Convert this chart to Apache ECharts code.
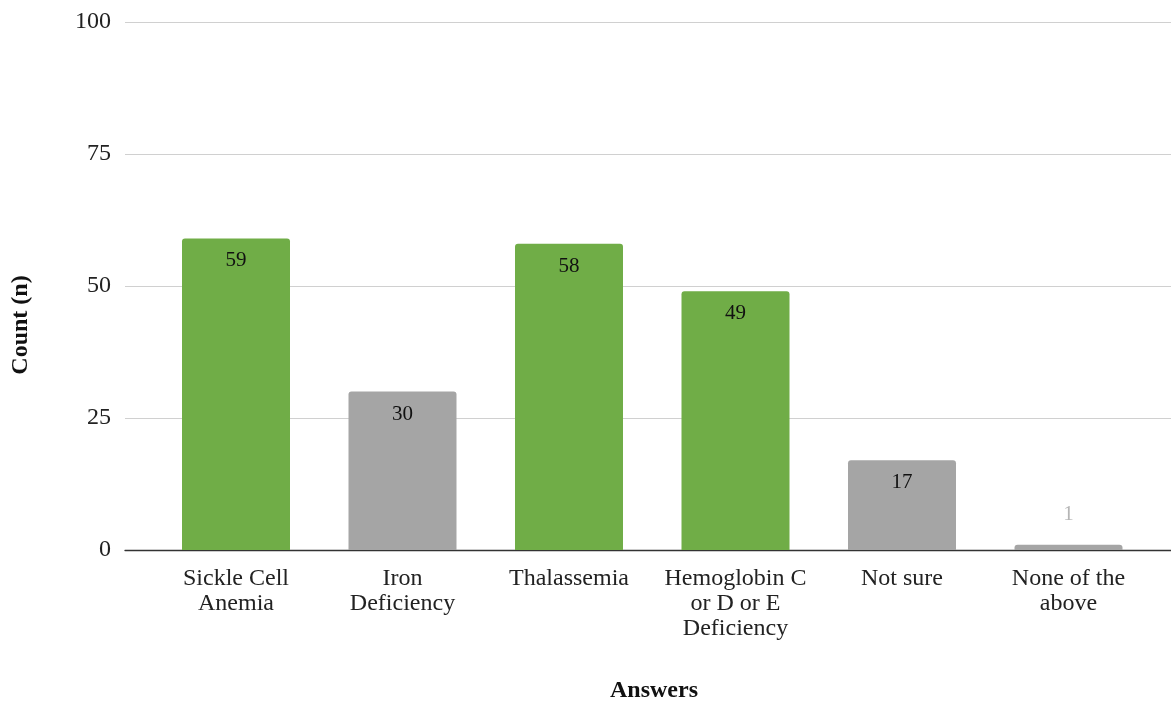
<!DOCTYPE html>
<html>
<head>
<meta charset="utf-8">
<script src="https://cdn.jsdelivr.net/npm/echarts@6/dist/echarts.min.js"></script>
<style>
  html, body { margin: 0; padding: 0; background: #fff; }
  #chart { width: 1171px; height: 702px; }
</style>
</head>
<body>
<div id="chart"></div>
<script>
// Survey answers and their counts
const categories = [
  'Sickle Cell\nAnemia',
  'Iron\nDeficiency',
  'Thalassemia',
  'Hemoglobin C\nor D or E\nDeficiency',
  'Not sure',
  'None of the\nabove'
];
const counts = [59, 30, 58, 49, 17, 1];
const isHemoglobinopathy = [true, false, true, true, false, false];
const yTicks = [0, 25, 50, 75, 100];

const GREEN = '#70ad47';
const GRAY = '#a5a5a5';
const FONT = '"Liberation Serif", "Times New Roman", serif';

const barData = counts.map((v, i) => {
  const item = {
    value: v,
    itemStyle: { color: isHemoglobinopathy[i] ? GREEN : GRAY }
  };
  // too short to hold its label: put it above the bar, muted
  if (v < 5) {
    item.label = { position: 'top', distance: 20, color: '#b5b5b5' };
  }
  return item;
});

const chart = echarts.init(document.getElementById('chart'), null, { renderer: 'canvas' });
chart.setOption({
  animation: false,
  backgroundColor: '#fff',
  grid: [
    { left: 125, right: 0, top: 22, bottom: 152 },
    { left: 152.75, right: 19.25, top: 22, bottom: 152 }
  ],
  xAxis: [
    {
      gridIndex: 0, type: 'value', min: 0, max: 1,
      axisLine: { show: true, lineStyle: { color: '#333', width: 1.3 } },
      axisTick: { show: false }, axisLabel: { show: false }, splitLine: { show: false }
    },
    {
      gridIndex: 1, type: 'category', data: categories,
      axisLine: { show: false }, axisTick: { show: false },
      axisLabel: {
        margin: 16, fontFamily: FONT, fontSize: 24, lineHeight: 25,
        color: '#222', interval: 0
      }
    }
  ],
  yAxis: [
    {
      gridIndex: 0, type: 'value', min: yTicks[0], max: yTicks[yTicks.length - 1],
      interval: yTicks[1] - yTicks[0],
      axisLine: { show: false }, axisTick: { show: false },
      axisLabel: { margin: 14, fontFamily: FONT, fontSize: 24, color: '#222' },
      splitLine: { lineStyle: { color: '#d0d0d0', width: 1.2 } }
    },
    {
      gridIndex: 1, type: 'value', min: yTicks[0], max: yTicks[yTicks.length - 1],
      show: false, splitLine: { show: false }
    }
  ],
  series: [{
    type: 'bar',
    xAxisIndex: 1, yAxisIndex: 1,
    data: barData,
    barWidth: 108,
    itemStyle: { borderRadius: [3, 3, 0, 0] },
    label: {
      show: true, position: 'insideTop', distance: 12,
      fontFamily: FONT, fontSize: 21, color: '#111'
    }
  }],
  graphic: [
    {
      type: 'text', x: 21, y: 325, rotation: Math.PI / 2,
      style: {
        text: 'Count (n)', fontFamily: FONT, fontSize: 24, fontWeight: 'bold',
        fill: '#111', align: 'center', verticalAlign: 'middle'
      }
    },
    {
      type: 'text', x: 654, y: 691,
      style: {
        text: 'Answers', fontFamily: FONT, fontSize: 24, fontWeight: 'bold',
        fill: '#111', align: 'center', verticalAlign: 'middle'
      }
    }
  ]
});
</script>
</body>
</html>
